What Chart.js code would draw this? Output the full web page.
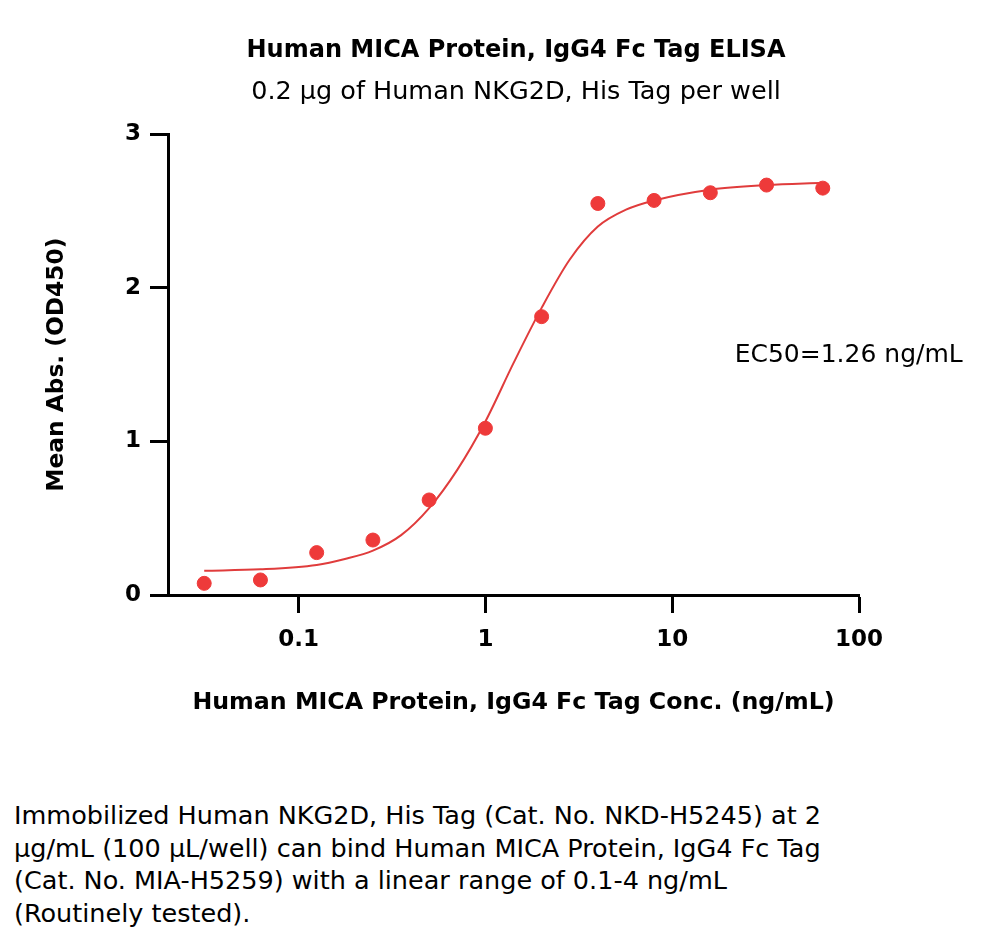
<!DOCTYPE html>
<html>
<head>
<meta charset="utf-8">
<script src="https://cdn.jsdelivr.net/npm/chart.js@4/dist/chart.umd.min.js"></script>
<style>
  html, body { margin: 0; padding: 0; background: #fff; }
  #wrap { position: relative; width: 1000px; height: 760px; }
  #caption {
    margin: 0; padding: 0 0 0 14px;
    font-family: "DejaVu Sans", sans-serif;
    font-size: 25.5px; line-height: 32.5px; color: #000;
    width: 980px; margin-top: 39px; white-space: nowrap;
  }
</style>
</head>
<body>
<div id="wrap"><canvas id="elisaChart" width="1000" height="760"></canvas></div>
<p id="caption">Immobilized Human NKG2D, His Tag (Cat. No. NKD-H5245) at 2<br>
µg/mL (100 µL/well) can bind Human MICA Protein, IgG4 Fc Tag<br>
(Cat. No. MIA-H5259) with a linear range of 0.1-4 ng/mL<br>
(Routinely tested).</p>
<script>
// 测量数据 (ng/mL, OD450)
const conc = [0.03125, 0.0625, 0.125, 0.25, 0.5, 1, 2, 4, 8, 16, 32, 64];
const meanAbs = [0.076, 0.098, 0.276, 0.358, 0.619, 1.086, 1.813, 2.55, 2.57, 2.62, 2.67, 2.65];

// 拟合曲线
const fitConc = [0.03125, 0.0625, 0.125, 0.177, 0.25, 0.354, 0.5, 0.707, 1, 1.414, 2, 2.83, 4, 5.66, 8, 16, 32, 64];
const fitAbs = [0.158, 0.167, 0.196, 0.235, 0.289, 0.39, 0.566, 0.815, 1.13, 1.51, 1.87, 2.185, 2.40, 2.51, 2.57, 2.64, 2.67, 2.685];

const xTicks = [0.1, 1, 10, 100];
const yTicks = [0, 1, 2, 3];

const ec50Text = 'EC50=1.26 ng/mL';

const red = 'rgb(238, 58, 58)';
const fontFamily = '"DejaVu Sans", sans-serif';

const ctx = document.getElementById('elisaChart').getContext('2d');

// EC50 文字
const ec50Label = {
    id: 'ec50Label',
    afterDatasetsDraw(chart) {
        const x = chart.scales.x.getPixelForValue(21.6);
        const y = chart.scales.y.getPixelForValue(1.56);
        const c = chart.ctx;
        c.save();
        c.font = '25px ' + fontFamily;
        c.fillStyle = '#000';
        c.textAlign = 'left';
        c.textBaseline = 'middle';
        c.fillText(ec50Text, x, y);
        c.restore();
    }
};

const elisaChart = new Chart(ctx, {
    type: 'scatter',
    data: {
        datasets: [{
            label: 'fit',
            type: 'line',
            data: fitConc.map((c, i) => ({ x: c, y: fitAbs[i] })),
            borderColor: 'rgb(224, 60, 60)',
            borderWidth: 2,
            pointRadius: 0,
            fill: false,
            cubicInterpolationMode: 'monotone',
            order: 2
        }, {
            label: 'data',
            data: conc.map((c, i) => ({ x: c, y: meanAbs[i] })),
            backgroundColor: red,
            borderColor: red,
            pointRadius: 7,
            pointHoverRadius: 7,
            order: 1
        }]
    },
    options: {
        responsive: false,
        animation: false,
        layout: { padding: { left: 32, right: 0, top: 0, bottom: 0 } },
        plugins: {
            legend: { display: false },
            tooltip: { enabled: false },
            title: {
                display: true,
                text: 'Human MICA Protein, IgG4 Fc Tag ELISA',
                color: '#000',
                font: { family: fontFamily, size: 24, weight: 'bold', lineHeight: 1.2 },
                padding: { top: 36, bottom: 0 }
            },
            subtitle: {
                display: true,
                text: '0.2 µg of Human NKG2D, His Tag per well',
                color: '#000',
                font: { family: fontFamily, size: 25.5, lineHeight: 1.2 },
                padding: { top: 12, bottom: 27 }
            }
        },
        scales: {
            x: {
                type: 'logarithmic',
                min: 0.02,
                max: 100,
                afterBuildTicks: (scale) => {
                    scale.ticks = xTicks.map(v => ({ value: v }));
                },
                afterFit: (scale) => { scale.height = 165; },
                border: { display: true, color: '#000', width: 3 },
                grid: { drawOnChartArea: false, drawTicks: true, tickLength: 18, tickWidth: 3, tickColor: '#000' },
                ticks: {
                    color: '#000',
                    padding: 13,
                    font: { family: fontFamily, size: 23, weight: 'bold' },
                    callback: (v) => String(v)
                },
                title: {
                    display: true,
                    text: 'Human MICA Protein, IgG4 Fc Tag Conc. (ng/mL)',
                    color: '#000',
                    font: { family: fontFamily, size: 23.7, weight: 'bold', lineHeight: 1.2 },
                    padding: { top: 0, bottom: 43 }
                }
            },
            y: {
                min: 0,
                max: 3,
                afterBuildTicks: (scale) => {
                    scale.ticks = yTicks.map(v => ({ value: v }));
                },
                afterFit: (scale) => { scale.width = 136; },
                border: { display: true, color: '#000', width: 3 },
                grid: { drawOnChartArea: false, drawTicks: true, tickLength: 18, tickWidth: 3, tickColor: '#000' },
                ticks: {
                    color: '#000',
                    padding: 9,
                    font: { family: fontFamily, size: 23, weight: 'bold' }
                },
                title: {
                    display: true,
                    text: 'Mean Abs. (OD450)',
                    color: '#000',
                    font: { family: fontFamily, size: 23.3, weight: 'bold', lineHeight: 1.2 },
                    padding: { top: 11, bottom: 0 }
                }
            },
            // 右侧留白
            y2: {
                position: 'right',
                min: 0,
                max: 3,
                afterFit: (scale) => { scale.width = 141; },
                border: { display: false },
                grid: { display: false },
                ticks: { display: false }
            }
        }
    },
    plugins: [ec50Label]
});
</script>
</body>
</html>
